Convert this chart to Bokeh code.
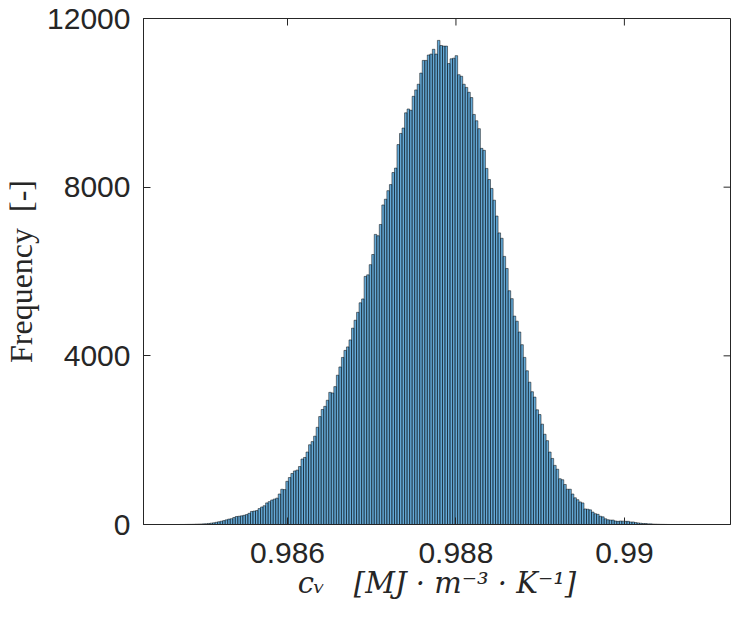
from bokeh.plotting import figure
from bokeh.models import Range1d, FixedTicker
from bokeh.embed import file_html
from bokeh.resources import INLINE

# ---- data ----
bin_start = 0.98472      # left edge of first bin
bin_width = 0.00003      # bin width
counts = [
    1, 1, 2, 3, 4, 5, 8, 10, 12, 15,
    18, 25, 32, 40, 52, 65, 78, 92, 110, 128,
    138, 165, 190, 196, 205, 218, 235, 265, 310, 318,
    330, 377, 415, 445, 512, 542, 580, 603, 625, 723,
    836, 828, 1024, 1114, 1210, 1270, 1290, 1375, 1552, 1590,
    1718, 1891, 1966, 2094, 2305, 2560, 2728, 2802, 2946, 3134,
    3119, 3270, 3541, 3736, 3962, 4129, 4211, 4377, 4656, 4844,
    5032, 5258, 5349, 5884, 5921, 6162, 6403, 6880, 6848, 7115,
    7578, 7714, 7917, 8061, 8347, 8452, 9010, 9274, 9402, 9763,
    9854, 9824, 10155, 10306, 10441, 10705, 11006, 11006, 11134, 11156,
    11270, 11156, 11481, 11360, 11345, 11345, 10931, 11044, 11059, 11119,
    10667, 10630, 10441, 10366, 10250, 10125, 9725, 9575, 9387, 8920,
    8874, 8445, 8181, 7970, 7691, 7315, 6916, 6788, 6358, 6072,
    5544, 5356, 4942, 4821, 4565, 4264, 3963, 3646, 3375, 3149,
    3021, 2720, 2607, 2380, 2140, 1989, 1718, 1567, 1402, 1311,
    1085, 1062, 949, 836, 836, 723, 633, 588, 535, 512,
    369, 362, 347, 294, 256, 241, 196, 181, 136, 113,
    105, 105, 83, 75, 83, 80, 75, 75, 60, 60,
    45, 38, 30, 23, 23, 15, 15, 10, 8, 6,
    4, 3, 2, 1,
]
x_ticks = [0.986, 0.988, 0.99]
x_tick_labels = ["0.986", "0.988", "0.99"]
y_ticks = [0, 4000, 8000, 12000]
y_tick_labels = ["0", "4000", "8000", "12000"]
x_limits = (0.98429, 0.99126)
y_limits = (0, 12000)
x_label = "c\u1d65\u2002\u2002[MJ \u00b7 m\u207b\u00b3 \u00b7 K\u207b\u00b9]"
y_label = "Frequency\u00a0\u00a0[-]"

lefts = [bin_start + i * bin_width for i in range(len(counts))]
rights = [l + bin_width for l in lefts]

AX = "#262626"
W, H = 731, 610
MB_L, MB_R, MB_T, MB_B = 137, 1, 18, 86
frame_w = W - MB_L - MB_R
frame_h = H - MB_T - MB_B
TICK_PX = 7

p = figure(width=W, height=H, output_backend="svg", toolbar_location=None,
           x_range=Range1d(*x_limits), y_range=Range1d(*y_limits),
           min_border_left=MB_L, min_border_right=MB_R, min_border_top=MB_T,
           min_border_bottom=MB_B)
p.background_fill_color = "white"
p.border_fill_color = "white"
p.outline_line_color = AX
p.outline_line_width = 1
p.grid.visible = False

p.quad(left=lefts, right=rights, bottom=0, top=counts,
       fill_color="#0072BD", fill_alpha=0.6, line_color="black", line_width=0.5)

xa = p.xaxis[0]
xa.ticker = FixedTicker(ticks=x_ticks)
xa.major_label_overrides = {v: s for v, s in zip(x_ticks, x_tick_labels)}
ya = p.yaxis[0]
ya.ticker = FixedTicker(ticks=y_ticks)
ya.major_label_overrides = {v: s for v, s in zip(y_ticks, y_tick_labels)}

for ax in (xa, ya):
    ax.axis_line_color = AX
    ax.major_tick_line_color = AX
    ax.major_tick_in = TICK_PX
    ax.major_tick_out = 0
    ax.minor_tick_line_color = None
    ax.major_label_text_font = "Liberation Sans"
    ax.major_label_text_font_size = "30px"
    ax.major_label_text_color = AX
    ax.axis_label_text_color = AX

xa.major_label_standoff = 18
xa.axis_label = x_label
xa.axis_label_text_font = "DejaVu Serif"
xa.axis_label_text_font_size = "29px"
xa.axis_label_text_font_style = "italic"
xa.axis_label_standoff = 0

ya.major_label_standoff = 13
ya.axis_label = y_label
ya.axis_label_text_font = "Liberation Serif"
ya.axis_label_text_font_size = "32px"
ya.axis_label_text_font_style = "normal"
ya.axis_label_standoff = 5

# mirrored inward ticks on top and right edges (box on)
dy = (y_limits[1] - y_limits[0]) / frame_h * TICK_PX
dx = (x_limits[1] - x_limits[0]) / frame_w * TICK_PX
p.segment(x0=x_ticks, x1=x_ticks, y0=[y_limits[1]] * len(x_ticks),
          y1=[y_limits[1] - dy] * len(x_ticks), line_color=AX, line_width=1)
p.segment(x0=[x_limits[1]] * len(y_ticks), x1=[x_limits[1] - dx] * len(y_ticks),
          y0=y_ticks, y1=y_ticks, line_color=AX, line_width=1)

open("out.html", "w").write(file_html(p, INLINE))
